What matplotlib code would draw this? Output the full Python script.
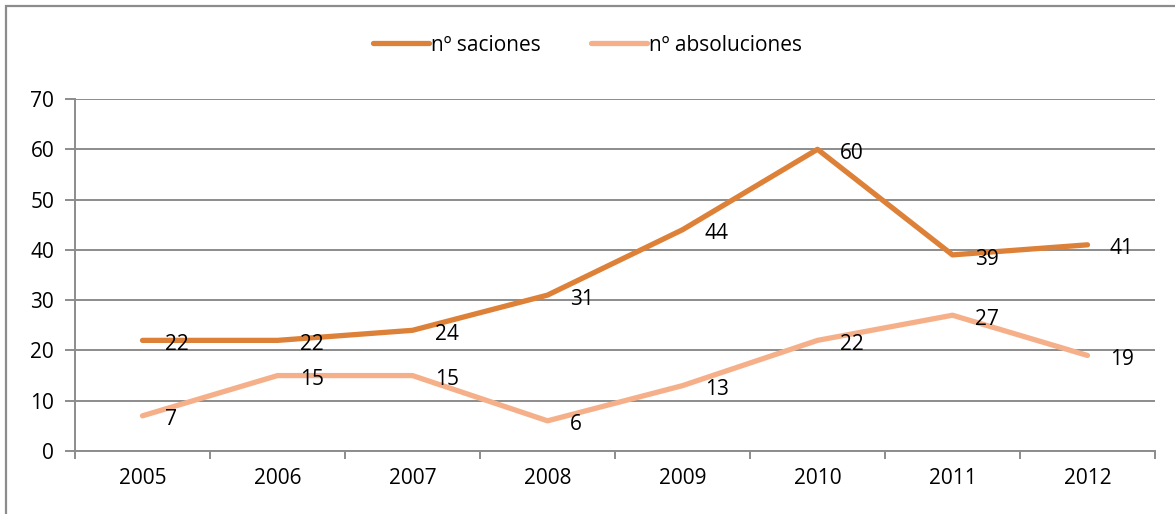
import matplotlib.pyplot as plt
from matplotlib.patches import Rectangle

years = ['2005', '2006', '2007', '2008', '2009', '2010', '2011', '2012']
sanciones = [22, 22, 24, 31, 44, 60, 39, 41]
absoluciones = [7, 15, 15, 6, 13, 22, 27, 19]

plt.rcParams['font.family'] = ['Open Sans', 'DejaVu Sans']

fig = plt.figure(figsize=(11.75, 5.14), dpi=100)
ax = fig.add_axes([75 / 1175, 1 - 451 / 514, 1080 / 1175, 352 / 514])

x = list(range(len(years)))
c1 = '#DD8139'
c2 = '#F5B08A'
ax.plot(x, sanciones, color=c1, linewidth=3.8, solid_capstyle='round', label='nº saciones', zorder=3)
ax.plot(x, absoluciones, color=c2, linewidth=3.8, solid_capstyle='round', label='nº absoluciones', zorder=3)

for xi, v in zip(x, sanciones):
    ax.annotate(str(v), (xi, v), xytext=(16, -3), textcoords='offset points',
                ha='left', va='center', fontsize=15, zorder=4)
for xi, v in zip(x, absoluciones):
    ax.annotate(str(v), (xi, v), xytext=(16, -3), textcoords='offset points',
                ha='left', va='center', fontsize=15, zorder=4)

ax.set_xlim(-0.5, 7.5)
ax.set_ylim(0, 70)
ax.set_yticks(range(0, 71, 10))
ax.set_xticks(x)
ax.set_xticklabels(years)
ax.set_xticks([i - 0.5 for i in range(9)], minor=True)
ax.tick_params(axis='x', which='major', length=0, pad=12, labelsize=15)
ax.tick_params(axis='x', which='minor', length=6, width=1.4, color='#8c8c8c', direction='out')
ax.tick_params(axis='y', length=7, width=1.4, color='#8c8c8c', direction='out', pad=8, labelsize=15)
ax.grid(axis='y', color='#8c8c8c', linewidth=1.4)
ax.set_axisbelow(True)
for s in ['top', 'right']:
    ax.spines[s].set_visible(False)
for s in ['left', 'bottom']:
    ax.spines[s].set_color('#8c8c8c')
    ax.spines[s].set_linewidth(1.4)

fig.legend(loc='center', bbox_to_anchor=(0.5, 0.912), ncol=2, frameon=False,
           fontsize=15, handlelength=2.7, handletextpad=0.1, columnspacing=2.4)

# chart frame: only left and top edges fall inside the image
fig.patches.append(Rectangle((6 / 1175, -0.05), 1.1, 1 - 6 / 514 + 0.05, transform=fig.transFigure,
                             fill=False, edgecolor='#8c8c8c', linewidth=1.6))

fig.savefig('out.png', dpi=100)
